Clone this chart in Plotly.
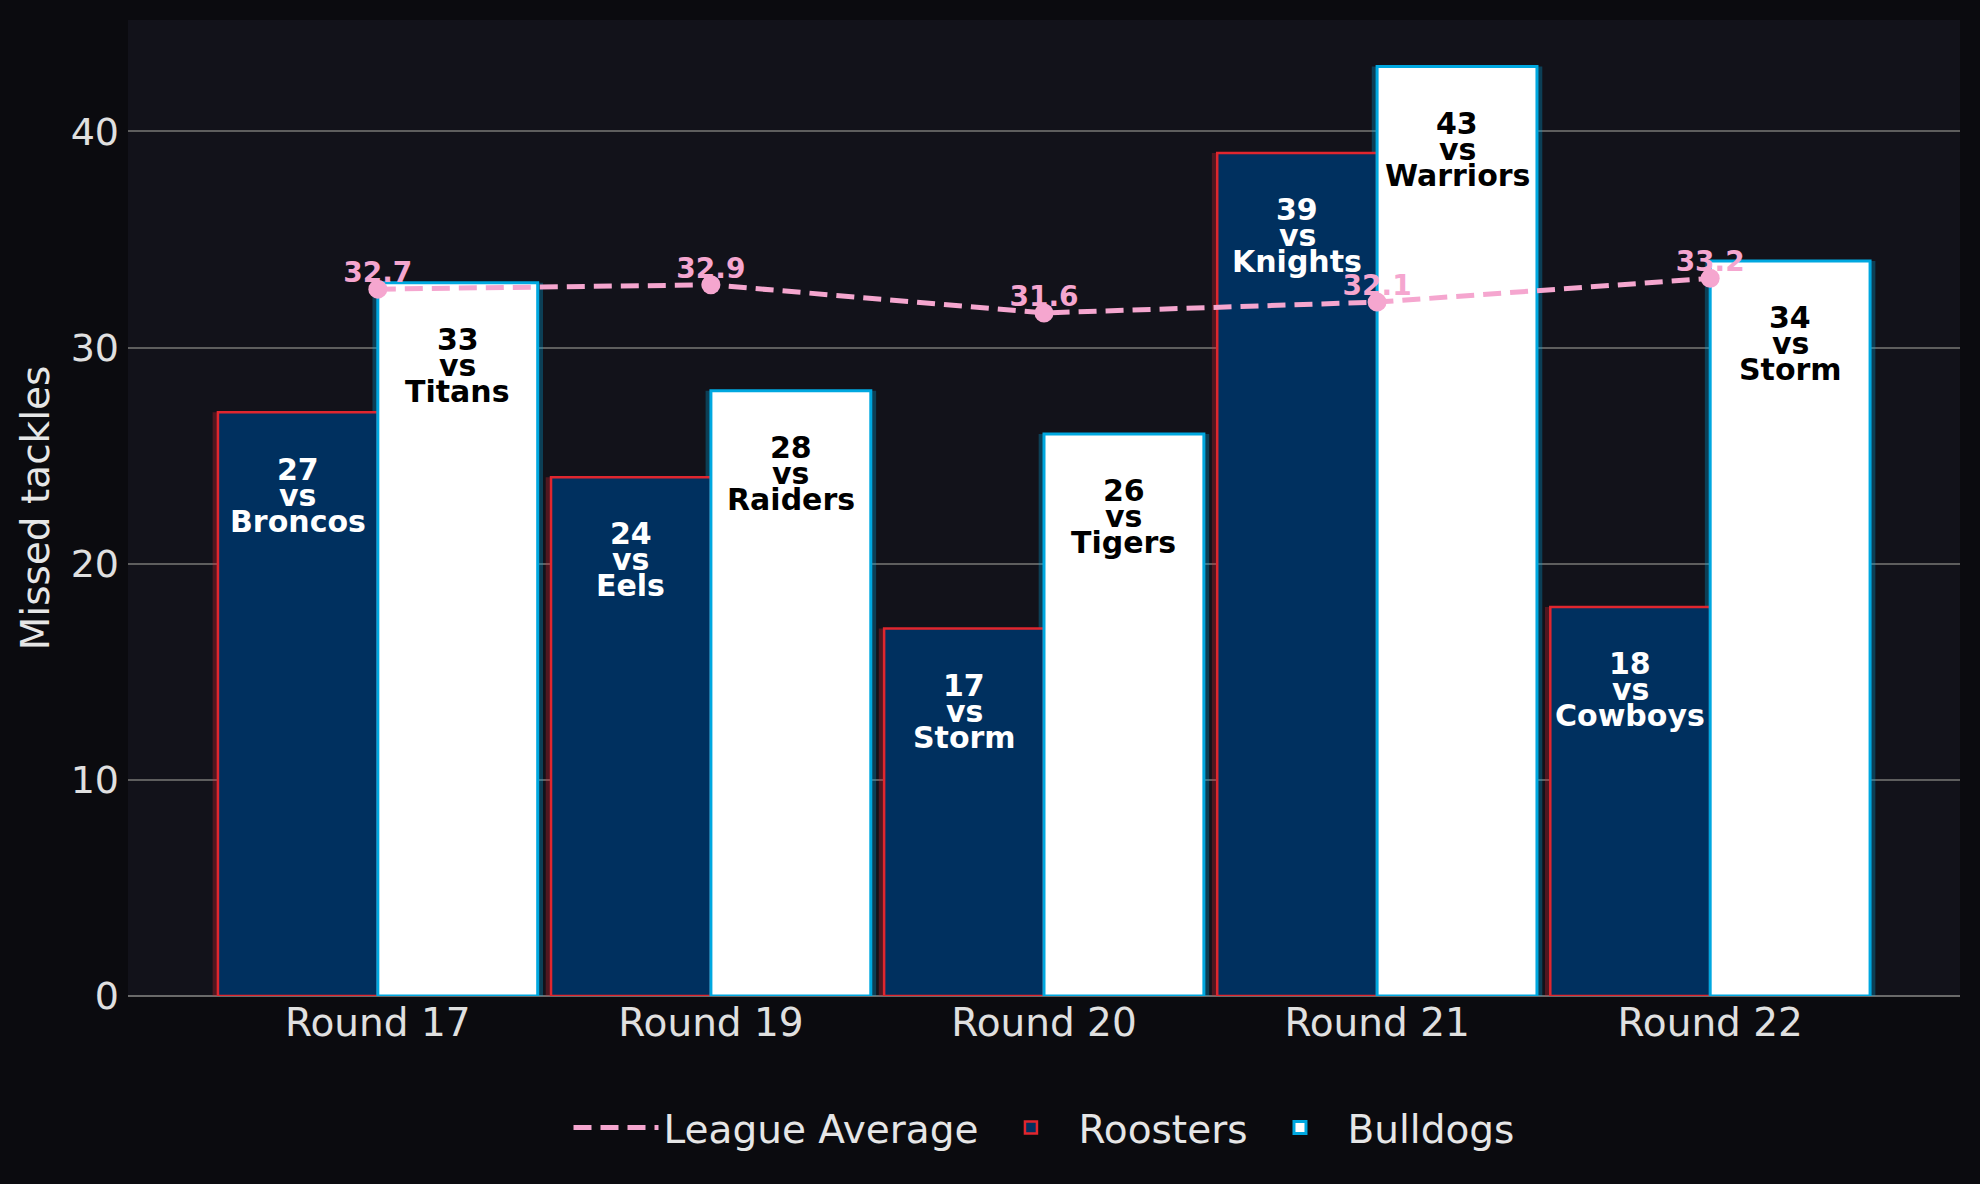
import plotly.graph_objects as go

# chart data
rounds = ["Round 17", "Round 19", "Round 20", "Round 21", "Round 22"]
roosters = [27, 24, 17, 39, 18]
bulldogs = [33, 28, 26, 43, 34]
roosters_opp = ["Broncos", "Eels", "Storm", "Knights", "Cowboys"]
bulldogs_opp = ["Titans", "Raiders", "Tigers", "Warriors", "Storm"]
league_avg = [32.7, 32.9, 31.6, 32.1, 33.2]

x = list(range(len(rounds)))
bw = 0.48      # bar width
glow = 0.016   # soft edge behind each bar
ymax = max(max(roosters), max(bulldogs))

NAVY = "#00305f"
RED = "#e0262e"
BLUE = "#00a8e0"
PINK = "#f5a6cf"
PAPER = "#0b0b0f"
PLOT = "#12121a"
FONT = "DejaVu Sans"

fig = go.Figure()

# faint halo behind bars
fig.add_trace(go.Bar(x=x, y=roosters, width=bw + 2 * glow, offset=-bw - glow,
                     marker=dict(color="rgba(224,38,46,0.3)", line=dict(width=0)),
                     showlegend=False, hoverinfo="skip"))
fig.add_trace(go.Bar(x=x, y=bulldogs, width=bw + 2 * glow, offset=-glow,
                     marker=dict(color="rgba(0,168,224,0.3)", line=dict(width=0)),
                     showlegend=False, hoverinfo="skip"))

fig.add_trace(go.Bar(x=x, y=roosters, width=bw, offset=-bw, name="Roosters",
                     legendrank=2,
                     marker=dict(color=NAVY, line=dict(color=RED, width=2.5))))
fig.add_trace(go.Bar(x=x, y=bulldogs, width=bw, offset=0, name="Bulldogs",
                     legendrank=3,
                     marker=dict(color="white", line=dict(color=BLUE, width=3))))

# league average: legend entry is the dashed line only
fig.add_trace(go.Scatter(x=x, y=league_avg, mode="lines", name="League Average",
                         legendrank=1,
                         line=dict(color=PINK, width=5, dash="18px,9px")))
fig.add_trace(go.Scatter(x=x, y=league_avg, mode="markers", showlegend=False,
                         marker=dict(color=PINK, size=19)))
fig.add_trace(go.Scatter(x=x, y=league_avg, mode="text", showlegend=False,
                         text=[f"{v:.1f}" for v in league_avg],
                         textposition="top center",
                         textfont=dict(family=FONT, size=28, color=PINK, weight="bold")))

# labels inside the bars, three tight lines each
def bar_labels(xs, vals, opps, colour, shift):
    for xi, v, opp in zip(xs, vals, opps):
        for line, dy in ((str(v), 27), ("vs", 1), (opp, -25)):
            fig.add_annotation(x=xi + shift, y=v - 0.09 * ymax, text=line,
                               showarrow=False, yshift=dy, yanchor="middle",
                               font=dict(family=FONT, size=30, color=colour, weight="bold"))

bar_labels(x, roosters, roosters_opp, "white", -bw / 2)
bar_labels(x, bulldogs, bulldogs_opp, "black", bw / 2)

fig.update_layout(
    width=1980, height=1184,
    barmode="overlay",
    paper_bgcolor=PAPER, plot_bgcolor=PLOT,
    margin=dict(l=128, r=20, t=20, b=188),
    font=dict(family=FONT, color="#e6e6e6", size=38),
    legend=dict(orientation="h", x=0.5, xanchor="center", y=-0.135, yanchor="middle",
                font=dict(size=39, color="#e6e6e6"), bgcolor="rgba(0,0,0,0)",
                itemwidth=85, tracegroupgap=0),
    xaxis=dict(range=[-0.75, 4.75], tickvals=x, ticktext=rounds, showgrid=False,
               zeroline=False, showline=False, ticks="",
               tickfont=dict(size=39, color="#e0e0e0")),
    yaxis=dict(range=[0, ymax * 1.05], dtick=10, showgrid=True, gridcolor="#5e5e5e",
               gridwidth=1.5, zeroline=True, zerolinecolor="#6a6a6a", zerolinewidth=1.5,
               ticks="", ticklabelstandoff=8, tickfont=dict(size=38, color="#e0e0e0"),
               title=dict(text="Missed tackles", standoff=8,
                          font=dict(size=39, color="#e6e6e6"))),
)

fig.write_html("out.html", config={"displayModeBar": False},
               post_script="document.body.style.margin='0';")
